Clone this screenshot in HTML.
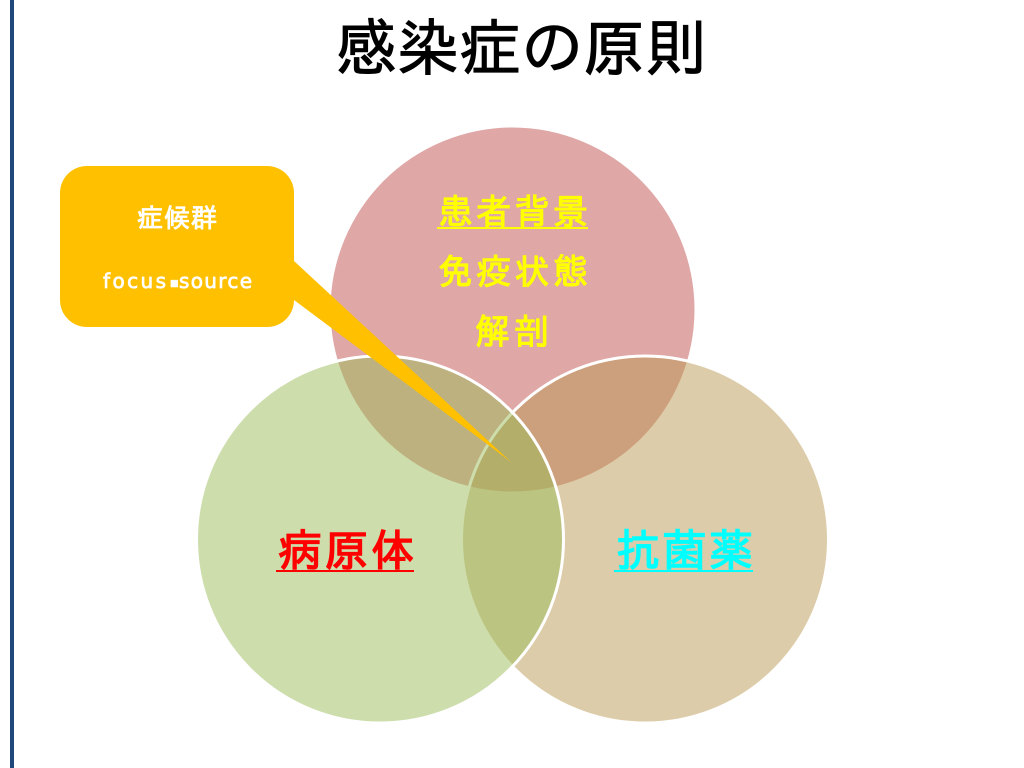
<!DOCTYPE html>
<html lang="ja">
<head>
<meta charset="utf-8">
<title>感染症の原則</title>
<style>
html,body{margin:0;padding:0;width:1024px;height:768px;overflow:hidden;background:#fff}
svg{display:block}
text{font-family:"IPAGothic","Noto Sans CJK JP",sans-serif}
.latin{font-family:"DejaVu Sans","IPAGothic",sans-serif}
</style>
</head>
<body>
<svg width="1024" height="768" viewBox="0 0 1024 768" xmlns="http://www.w3.org/2000/svg">
  <rect x="0" y="0" width="1024" height="768" fill="#fff"/>
  <rect x="10" y="0" width="4" height="768" fill="#1F497D"/>

  <text x="335" y="70" font-size="62" fill="#000" stroke="#000" stroke-width="1" textLength="372" lengthAdjust="spacing">感染症の原則</text>

  <circle cx="512.5" cy="309.5" r="182" fill="#C0504D" fill-opacity="0.5"/>
  <circle cx="645" cy="539.5" r="182.5" fill="#BB9953" fill-opacity="0.5"/>
  <circle cx="645" cy="539.5" r="183.5" fill="none" stroke="#fff" stroke-width="3"/>
  <circle cx="380" cy="539.5" r="182.5" fill="#9BBB59" fill-opacity="0.5"/>
  <circle cx="380" cy="539.5" r="183.5" fill="none" stroke="#fff" stroke-width="3"/>

  <path d="M87 166H267A27 27 0 0 1 294 193V261L511 462L294 300V300A27 27 0 0 1 267 327H87A27 27 0 0 1 60 300V193A27 27 0 0 1 87 166Z" fill="#FFC000"/>

  <text x="137" y="227" font-size="26" font-weight="700" fill="#fff" textLength="80" lengthAdjust="spacing">症候群</text>
  <text class="latin" x="103" y="288" font-size="20" fill="#fff" stroke="#fff" stroke-width="0.7" textLength="63" lengthAdjust="spacing">focus</text>
  <text class="latin" x="170" y="286" font-size="9" fill="#fff" stroke="#fff" stroke-width="0.5">■</text>
  <text class="latin" x="179" y="288" font-size="20" fill="#fff" stroke="#fff" stroke-width="0.7" textLength="73" lengthAdjust="spacing">source</text>

  <text x="438" y="224" font-size="35" font-weight="700" fill="#FFFF00" textLength="150" lengthAdjust="spacing">患者背景</text>
  <rect x="437" y="227" width="151" height="2" fill="#FFFF00"/>
  <text x="438" y="284" font-size="35" font-weight="700" fill="#FFFF00" textLength="150" lengthAdjust="spacing">免疫状態</text>
  <text x="475" y="344" font-size="35" font-weight="700" fill="#FFFF00" textLength="74" lengthAdjust="spacing">解剖</text>

  <text x="278" y="566" font-size="44" font-weight="700" fill="#FF0000" textLength="137" lengthAdjust="spacing">病原体</text>
  <rect x="276" y="570" width="138" height="2" fill="#FF0000"/>
  <text x="616" y="566" font-size="44" font-weight="700" fill="#00FFFF" textLength="137" lengthAdjust="spacing">抗菌薬</text>
  <rect x="614" y="570" width="139" height="2" fill="#00FFFF"/>
</svg>
</body>
</html>
